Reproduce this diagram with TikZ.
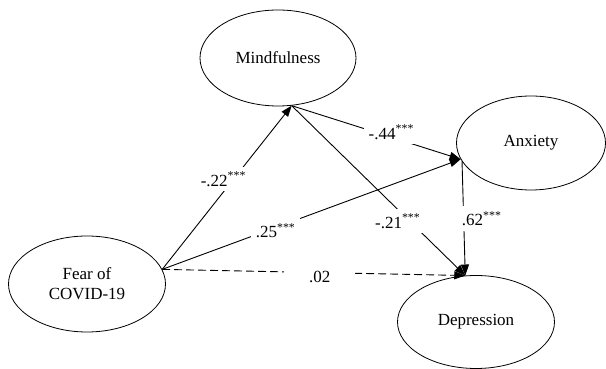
\documentclass[tikz,border=0pt]{standalone}
\usepackage{fontspec}
\setmainfont{Liberation Serif}
\usetikzlibrary{shapes.geometric,arrows.meta}

\begin{document}
\begin{tikzpicture}[x=1pt,y=1pt,
  var/.style={ellipse,draw,line width=0.8pt,inner sep=0pt,align=center,font=\fontsize{17}{20}\selectfont},
  effect/.style={line width=0.9pt,-{Triangle[length=11pt,width=8pt]}},
  coef/.style={fill=white,inner sep=5pt,font=\fontsize{17}{20}\selectfont}]
  \useasboundingbox (0,0) rectangle (606,369);
  % latent variables
  \node[var,minimum width=157pt,minimum height=96pt] (fear) at (87,85) {Fear of\\COVID-19};
  \node[var,minimum width=156pt,minimum height=96pt] (mind) at (278,311) {Mindfulness};
  \node[var,minimum width=149pt,minimum height=94pt] (anx) at (531,226) {Anxiety};
  \node[var,minimum width=157pt,minimum height=93pt] (dep) at (476,47) {Depression};
  % paths
  \draw[effect] (fear.11) -- node[coef,pos=0.55,xshift=-10pt] {-.22\textsuperscript{***}} (mind.286);
  \draw[effect] (mind.286) -- node[coef,pos=0.59,yshift=5pt] {-.44\textsuperscript{***}} (anx.193);
  \draw[effect] (fear.11) -- node[coef,pos=0.38,yshift=-3pt] {.25\textsuperscript{***}} (anx.193);
  \draw[effect] (mind.286) -- node[coef,pos=0.68,xshift=-12pt] {-.21\textsuperscript{***}} (dep.103);
  \draw[effect] (anx.195) -- node[coef,pos=0.5,xshift=18pt] {.62\textsuperscript{***}} (dep.103);
  \draw[effect,dash pattern=on 8pt off 4pt] (fear.11) -- node[coef,pos=0.52,yshift=-4pt,inner xsep=25pt] {.02} (dep.103);
\end{tikzpicture}
\end{document}
